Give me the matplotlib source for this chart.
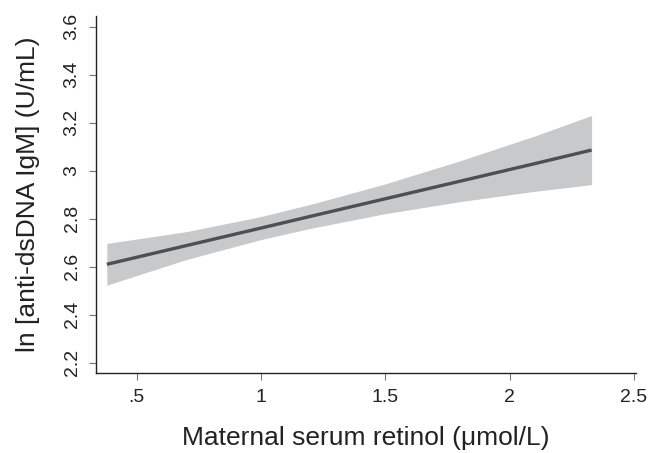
import matplotlib
matplotlib.use('Agg')
import matplotlib.pyplot as plt

# values
retinol = [0.38, 0.70, 1.00, 1.20, 1.50, 1.80, 2.10, 2.33]
fit = [2.610, 2.688, 2.761, 2.810, 2.883, 2.956, 3.029, 3.086]
ci_low = [2.523, 2.630, 2.713, 2.760, 2.821, 2.871, 2.914, 2.942]
ci_high = [2.697, 2.746, 2.809, 2.860, 2.945, 3.041, 3.144, 3.230]

x_ticks = [0.5, 1, 1.5, 2, 2.5]
x_ticklabels = ['.5', '1', '1.5', '2', '2.5']
y_ticks = [2.2, 2.4, 2.6, 2.8, 3, 3.2, 3.4, 3.6]
y_ticklabels = ['2.2', '2.4', '2.6', '2.8', '3', '3.2', '3.4', '3.6']

plt.rcParams['font.family'] = ['Liberation Sans', 'DejaVu Sans']

fig = plt.figure(figsize=(6.48, 4.53), dpi=100)
ax = fig.add_axes([0.148, 0.177, 0.834, 0.788])

ax.fill_between(retinol, ci_low, ci_high, color='#c8c9cb', linewidth=0)
ax.plot(retinol, fit, color='#4f4f4f', linewidth=2.4, solid_capstyle='butt')

ax.set_xlim(0.336, 2.51)
ax.set_ylim(2.158, 3.645)
ax.set_xticks(x_ticks)
ax.set_xticklabels(x_ticklabels)
ax.set_yticks(y_ticks)
ax.set_yticklabels(y_ticklabels, rotation=90, va='center')

for s in ['top', 'right']:
    ax.spines[s].set_visible(False)
for s in ['left', 'bottom']:
    ax.spines[s].set_color('#222222')
    ax.spines[s].set_linewidth(1.0)

ax.tick_params(axis='both', direction='out', length=5, width=0.8,
               color='#777777', labelsize=14, labelcolor='#222222')
ax.tick_params(axis='x', pad=7)
ax.tick_params(axis='y', pad=6)

ax.set_xlabel('Maternal serum retinol (\u03bcmol/L)', fontsize=19,
              color='#222222', labelpad=14)
ax.set_ylabel('ln [anti-dsDNA IgM] (U/mL)', fontsize=19,
              color='#222222', labelpad=17)

fig.savefig('out.png', dpi=100, facecolor='white')
